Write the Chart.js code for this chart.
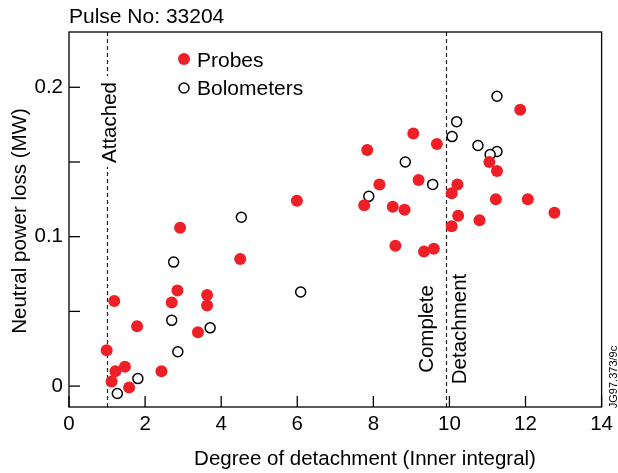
<!DOCTYPE html>
<html>
<head>
<meta charset="utf-8">
<script src="https://cdn.jsdelivr.net/npm/chart.js@4"></script>
<style>body{margin:0;background:#fff}</style>
</head>
<body>
<canvas id="chartDetach" width="618" height="473"></canvas>
<script>
const FONT = "'Liberation Sans', Arial, Helvetica, sans-serif";

// Probes (filled red)
const probesX = [11.86, 9.05, 9.67, 7.84, 11.05, 11.25, 8.16, 9.19, 10.21, 10.06,
                 7.76, 8.51, 8.82, 11.22, 12.06, 12.76, 10.23, 10.79, 10.06, 8.58,
                 9.33, 9.59, 5.99, 2.92, 4.50, 2.85, 2.70, 3.63, 3.63, 1.19,
                 1.79, 3.39, 0.99, 1.47, 1.22, 2.43, 1.12, 1.58];
const probesY = [0.185, 0.169, 0.162, 0.158, 0.150, 0.144, 0.135, 0.138, 0.135, 0.129,
                 0.121, 0.120, 0.118, 0.125, 0.125, 0.116, 0.114, 0.111, 0.107, 0.094,
                 0.090, 0.092, 0.124, 0.106, 0.085, 0.064, 0.056, 0.061, 0.054, 0.057,
                 0.040, 0.036, 0.024, 0.013, 0.010, 0.010, 0.003, -0.001];

// Bolometers (open circles)
const bolosX = [11.25, 10.19, 10.07, 10.75, 11.25, 11.07, 8.84, 9.56, 7.88, 4.53,
                2.75, 6.09, 2.70, 3.71, 2.86, 1.81, 1.27];
const bolosY = [0.194, 0.177, 0.167, 0.161, 0.157, 0.155, 0.150, 0.135, 0.127, 0.113,
                0.083, 0.063, 0.044, 0.039, 0.023, 0.005, -0.005];

const xTicks = [0, 2, 4, 6, 8, 10, 12, 14];
const yTicks = [0, 0.05, 0.1, 0.15, 0.2];
const yLabels = {0: '0', 0.1: '0.1', 0.2: '0.2'};

const attachedX = 1;
const detachX = 9.9;

const RED = '#ee1f26';

const toPoints = (xs, ys) => xs.map((x, i) => ({x: x, y: ys[i]}));

const decor = {
  id: 'decor',
  beforeDatasetsDraw(chart) {
    const ctx = chart.ctx;
    const a = chart.chartArea;
    const xs = chart.scales.x, ys = chart.scales.y;
    ctx.save();

    // dashed markers
    ctx.strokeStyle = '#222';
    ctx.lineWidth = 1.2;
    ctx.setLineDash([4, 3]);
    [attachedX, detachX].forEach(v => {
      const px = Math.round(xs.getPixelForValue(v)) + 0.5;
      ctx.beginPath();
      ctx.moveTo(px, a.top);
      ctx.lineTo(px, a.bottom);
      ctx.stroke();
    });
    ctx.setLineDash([]);

    // frame
    ctx.strokeStyle = '#000';
    ctx.lineWidth = 1.3;
    ctx.strokeRect(a.left, a.top, a.right - a.left, a.bottom - a.top);

    // inward ticks
    xTicks.forEach(v => {
      const px = xs.getPixelForValue(v);
      ctx.beginPath();
      ctx.moveTo(px, a.bottom);
      ctx.lineTo(px, a.bottom - 11);
      ctx.stroke();
    });
    yTicks.forEach(v => {
      const py = ys.getPixelForValue(v);
      ctx.beginPath();
      ctx.moveTo(a.left, py);
      ctx.lineTo(a.left + 11, py);
      ctx.stroke();
    });

    ctx.fillStyle = '#000';
    ctx.textAlign = 'center';
    ctx.textBaseline = 'alphabetic';

    // "Attached" over its line
    const ax = xs.getPixelForValue(attachedX);
    ctx.save();
    ctx.fillStyle = '#fff';
    ctx.fillRect(ax - 8, 76, 16, 91);
    ctx.restore();
    ctx.font = '20.5px ' + FONT;
    ctx.save();
    ctx.translate(ax + 8.5, 122.5);
    ctx.rotate(-Math.PI / 2);
    ctx.fillText('Attached', 0, 0);
    ctx.restore();

    // "Complete Detachment"
    const dx = xs.getPixelForValue(detachX);
    ctx.save();
    ctx.translate(dx - 13, 329);
    ctx.rotate(-Math.PI / 2);
    ctx.fillText('Complete', 0, 0);
    ctx.restore();
    ctx.save();
    ctx.translate(dx + 20, 329);
    ctx.rotate(-Math.PI / 2);
    ctx.fillText('Detachment', 0, 0);
    ctx.restore();

    // legend
    ctx.font = '21px ' + FONT;
    ctx.textAlign = 'left';
    ctx.beginPath();
    ctx.arc(184, 59, 6, 0, Math.PI * 2);
    ctx.fillStyle = RED;
    ctx.fill();
    ctx.beginPath();
    ctx.arc(184, 88, 5, 0, Math.PI * 2);
    ctx.fillStyle = '#fff';
    ctx.fill();
    ctx.lineWidth = 1.5;
    ctx.strokeStyle = '#000';
    ctx.stroke();
    ctx.fillStyle = '#000';
    ctx.fillText('Probes', 197, 66.5);
    ctx.fillText('Bolometers', 197, 94.5);

    // title
    ctx.fillText('Pulse No: 33204', 69, 23);

    // axis titles
    ctx.textAlign = 'center';
    ctx.font = '20.5px ' + FONT;
    ctx.fillText('Degree of detachment (Inner integral)', 365, 465);
    ctx.save();
    ctx.translate(26, 221);
    ctx.rotate(-Math.PI / 2);
    ctx.fillText('Neutral power loss (MW)', 0, 0);
    ctx.restore();

    // figure id
    ctx.font = '11px ' + FONT;
    ctx.save();
    ctx.translate(617, 377);
    ctx.rotate(-Math.PI / 2);
    ctx.fillText('JG97.373/9c', 0, 0);
    ctx.restore();

    ctx.restore();
  }
};

const chartDetach = new Chart('chartDetach', {
  type: 'scatter',
  data: {
    datasets: [{
      label: 'Probes',
      data: toPoints(probesX, probesY),
      backgroundColor: RED,
      borderWidth: 0,
      pointRadius: 6,
      pointHoverRadius: 6
    }, {
      label: 'Bolometers',
      data: toPoints(bolosX, bolosY),
      backgroundColor: '#fff',
      borderColor: '#000',
      borderWidth: 1.5,
      pointRadius: 5,
      pointHoverRadius: 5
    }]
  },
  options: {
    responsive: false,
    animation: false,
    devicePixelRatio: 1,
    layout: {padding: {top: 32, right: 14, left: 0, bottom: 0}},
    plugins: {legend: {display: false}, tooltip: {enabled: false}},
    scales: {
      x: {
        type: 'linear',
        min: 0,
        max: 14,
        afterFit: s => { s.height = 66; },
        afterBuildTicks: s => { s.ticks = xTicks.map(v => ({value: v})); },
        grid: {display: false, drawTicks: false},
        border: {display: false},
        ticks: {color: '#000', padding: 5, font: {family: FONT, size: 20.5}}
      },
      y: {
        type: 'linear',
        min: -0.014,
        max: 0.237,
        afterFit: s => { s.width = 69; },
        afterBuildTicks: s => { s.ticks = yTicks.map(v => ({value: v})); },
        grid: {display: false, drawTicks: false},
        border: {display: false},
        ticks: {
          color: '#000',
          padding: 6,
          font: {family: FONT, size: 20.5},
          callback: v => yLabels[Math.round(v * 100) / 100] || ''
        }
      }
    }
  },
  plugins: [decor]
});
</script>
</body>
</html>
